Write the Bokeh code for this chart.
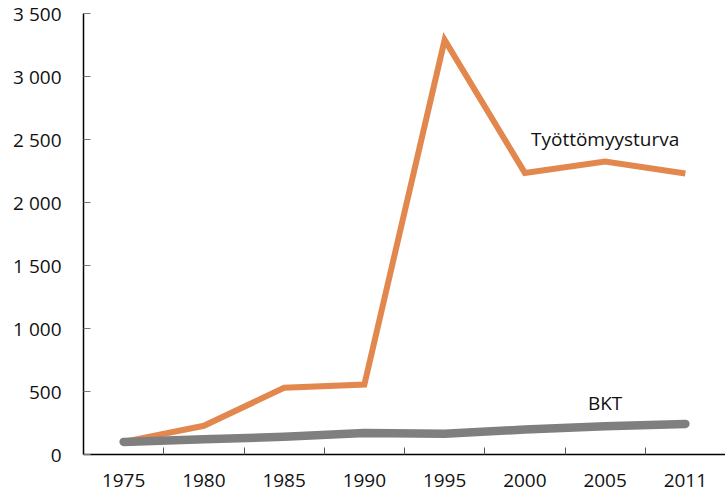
from bokeh.plotting import figure
from bokeh.models import FixedTicker, Range1d, Label
from bokeh.embed import file_html
from bokeh.resources import INLINE

years = ["1975", "1980", "1985", "1990", "1995", "2000", "2005", "2011"]
tyottomyysturva = [100, 228, 530, 555, 3290, 2235, 2325, 2230]
bkt = [100, 122, 140, 170, 165, 198, 225, 243]
y_ticks = [0, 500, 1000, 1500, 2000, 2500, 3000, 3500]
y_tick_labels = ["0", "500", "1 000", "1 500", "2 000", "2 500", "3 000", "3 500"]

FONT = "Open Sans"
xs = [i + 0.5 for i in range(len(years))]

p = figure(width=725, height=498, output_backend="svg", toolbar_location=None,
           x_range=Range1d(0, len(years)), y_range=Range1d(0, 3500))
p.min_border_left = 83
p.min_border_right = 0
p.min_border_top = 13
p.min_border_bottom = 44
p.outline_line_color = None
p.grid.grid_line_color = None
p.background_fill_color = "white"
p.border_fill_color = "white"

p.line(xs, tyottomyysturva, line_color="#E2884F", line_width=6, line_join="miter", line_cap="butt")
p.line(xs, bkt, line_color="#7F7F7F", line_width=8.5, line_join="round", line_cap="round")

# x axis
p.xaxis.ticker = FixedTicker(ticks=xs, minor_ticks=list(range(1, len(years))))
p.xaxis.major_label_overrides = {x: y for x, y in zip(xs, years)}
p.xaxis.major_tick_line_color = None
p.xaxis.minor_tick_in = 7
p.xaxis.minor_tick_out = 0
p.xaxis.minor_tick_line_color = "#555555"
p.xaxis.axis_line_color = "black"
p.xaxis.axis_line_width = 1.5
p.xaxis.major_label_standoff = 13
p.xaxis.major_label_text_font = FONT
p.xaxis.major_label_text_font_size = "19px"
p.xaxis.major_label_text_color = "#111111"

# y axis
p.yaxis.ticker = FixedTicker(ticks=y_ticks, minor_ticks=[])
p.yaxis.major_label_overrides = {t: l for t, l in zip(y_ticks, y_tick_labels)}
p.yaxis.major_tick_in = 7
p.yaxis.major_tick_out = 0
p.yaxis.major_tick_line_color = "#777777"
p.yaxis.axis_line_color = "black"
p.yaxis.axis_line_width = 1.5
p.yaxis.major_label_standoff = 22
p.yaxis.major_label_text_font = FONT
p.yaxis.major_label_text_font_size = "19px"
p.yaxis.major_label_text_color = "#111111"

p.add_layout(Label(x=xs[6], y=2505, text="Työttömyysturva", text_align="center",
                   text_baseline="middle", text_font=FONT, text_font_size="19px",
                   text_color="#111111"))
p.add_layout(Label(x=xs[6], y=410, text="BKT", text_align="center",
                   text_baseline="middle", text_font=FONT, text_font_size="19px",
                   text_color="#111111"))

open("out.html", "w").write(file_html(p, INLINE))
